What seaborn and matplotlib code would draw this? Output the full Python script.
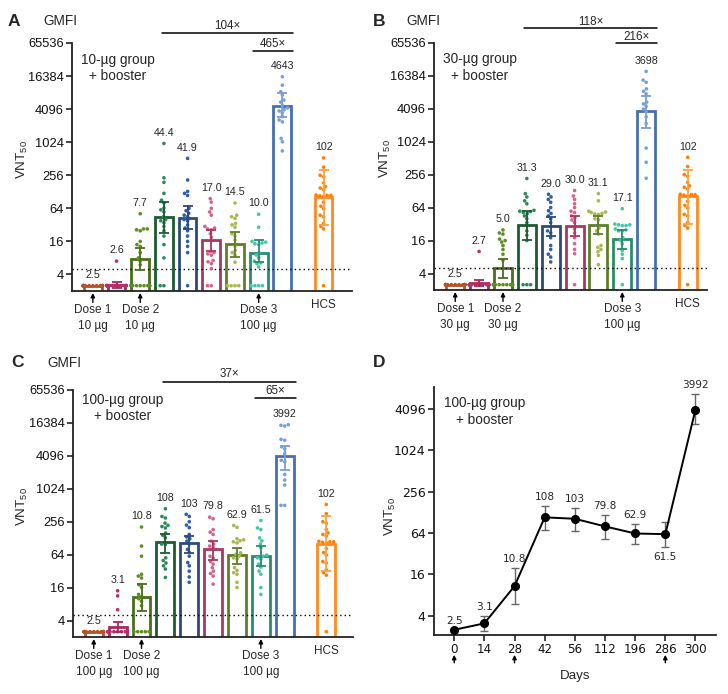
import numpy as np
import pandas as pd
import matplotlib
matplotlib.use("Agg")
import matplotlib.pyplot as plt
from matplotlib.ticker import NullLocator, FixedLocator, FixedFormatter
import seaborn as sns

# ------------------------------------------------------------------ data
categories = ["Day 0", "Day 14", "Day 28", "Day 42", "Day 56",
              "Day 112", "Day 196", "Day 286", "Day 300", "HCS"]

hcs_points = [530, 360, 256, 240, 185, 160, 150, 140, 112, 110, 110, 108,
              105, 83, 70, 63, 48, 45, 34, 30, 27, 2.5]

# Panel A : 10-ug group
gmfi_A = [2.5, 2.6, 7.7, 44.4, 41.9, 17.0, 14.5, 10.0, 4643, 102]
ci_lo_A = [2.5, 2.3, 4.9, 22.6, 27, 10.5, 8.3, 6.7, 2900, 32]
ci_hi_A = [2.5, 2.9, 12, 83, 70, 26, 23.6, 16.7, 8100, 326]
points_A = [
    [2.5] * 20,
    [7.0] + [2.5] * 19,
    [51, 27, 27, 26, 25, 16, 14, 13, 10, 8, 7, 6] + [2.5] * 8,
    [970, 230, 190, 120, 90, 80, 65, 60, 55, 45, 40, 38, 35, 30, 25, 20, 14, 8, 2.5, 2.5],
    [520, 210, 130, 120, 110, 64, 58, 52, 48, 45, 40, 38, 32, 28, 25, 20, 16, 13, 10, 2.5],
    [96, 83, 64, 55, 48, 30, 28, 27, 26, 22, 19, 10.5, 10, 9.5, 9, 7.2, 6.8, 6.3, 5.1, 2.5, 2.5],
    [80, 48, 45, 42, 34, 32, 29, 22, 20, 17, 13, 11, 10, 9, 6.7, 2.5, 2.5, 2.5, 2.5],
    [50, 29, 16, 15.5, 15, 14.5, 14, 10, 9, 8, 7, 6.5, 6.3, 5.5, 2.5, 2.5, 2.5, 2.5],
    [15900, 11200, 8500, 7400, 6000, 5500, 4800, 4300, 4000, 3800, 3500, 3000, 2600, 2400, 1200, 1040, 710],
    hcs_points,
]
folds_A = ["104×", "465×"]
doses_A = ["Dose 1\n10 µg", "Dose 2\n10 µg", "Dose 3\n100 µg"]

# Panel B : 30-ug group
gmfi_B = [2.5, 2.7, 5.0, 31.3, 29.0, 30.0, 31.1, 17.1, 3698, 102]
ci_lo_B = [2.5, 2.4, 3.25, 16.7, 19, 19, 21, 11.3, 1800, 32]
ci_hi_B = [2.5, 3.1, 7.5, 56, 43, 45, 45, 25, 7100, 315]
points_B = [
    [2.5] * 20,
    [10.1] + [2.5] * 19,
    [25, 22, 21, 17, 16, 15, 13, 11, 9, 7] + [2.5] * 10,
    [217, 115, 100, 85, 75, 57, 55, 54, 52, 50, 45, 40, 34, 24, 20, 16, 2.5, 2.5, 2.5],
    [112, 100, 90, 80, 64, 56, 50, 45, 40, 34, 24, 22, 18, 13, 11, 9, 8, 6.5],
    [131, 104, 90, 75, 64, 55, 52, 45, 42, 38, 34, 26, 22, 18, 14, 11, 9.2, 2.5],
    [115, 85, 55, 53, 52, 50, 49, 48, 40, 38, 27, 24, 21, 13, 12, 11, 10, 8.6, 5.8],
    [61, 32, 31, 31, 30, 30, 26, 25, 24, 24, 18, 16, 14, 10.5, 9, 7.5, 2.5],
    [19600, 13600, 12400, 9400, 8500, 7600, 5400, 5000, 4500, 4000, 3600, 2900, 2200, 780, 430, 220],
    hcs_points,
]
folds_B = ["118×", "216×"]
doses_B = ["Dose 1\n30 µg", "Dose 2\n30 µg", "Dose 3\n100 µg"]

# Panel C : 100-ug group
gmfi_C = [2.5, 3.1, 10.8, 108, 103, 79.8, 62.9, 61.5, 3992, 102]
ci_lo_C = [2.5, 2.5, 5.9, 69, 69, 51, 43, 40, 2260, 32]
ci_hi_C = [2.5, 3.8, 19, 153, 143, 113, 83, 94, 6100, 326]
points_C = [
    [2.5] * 19,
    [14, 11.3, 6.3] + [2.5] * 16,
    [205, 92, 60, 28, 26, 24, 18, 16, 12, 11, 10, 9, 7.5, 2.5, 2.5, 2.5, 2.5, 2.5],
    [442, 320, 300, 242, 220, 210, 197, 160, 145, 130, 100, 98, 56, 50, 45, 40, 35, 24.5],
    [350, 320, 256, 222, 200, 150, 135, 125, 113, 100, 80, 70, 60, 46, 40, 32, 25, 20],
    [310, 290, 184, 165, 150, 113, 100, 92, 86, 60, 55, 48, 43, 37, 32, 29, 26, 18.5],
    [218, 202, 125, 120, 115, 110, 105, 69, 65, 60, 56, 53, 37, 33, 30, 28, 20, 16],
    [270, 197, 184, 130, 115, 100, 86, 63, 60, 56, 53, 43, 38, 32, 28, 16, 12],
    [15200, 14800, 14400, 8200, 7900, 6000, 5500, 4500, 3400, 3200, 1870, 1480, 1200, 510, 510],
    hcs_points,
]
folds_C = ["37×", "65×"]
doses_C = ["Dose 1\n100 µg", "Dose 2\n100 µg", "Dose 3\n100 µg"]

# Panel D : 100-ug group kinetics
days = ["0", "14", "28", "42", "56", "112", "196", "286", "300"]
gmt_D = [2.5, 3.1, 10.8, 108, 103, 79.8, 62.9, 61.5, 3992]
ci_lo_D = [2.5, 2.4, 5.9, 71, 69, 52, 44, 40.5, 2450]
ci_hi_D = [2.5, 4.0, 20, 160, 150, 117, 86, 91, 6700]
dose_days = ["0", "28", "286"]

ytick_vals = [4, 16, 64, 256, 1024, 4096, 16384, 65536]
ytick_vals_D = [4, 16, 64, 256, 1024, 4096]

# ------------------------------------------------------------------ style
bar_colors = ["#B5532B", "#A8285C", "#4A6E1A", "#1E5A32", "#2B4A78",
              "#A8385F", "#5E7F2A", "#2A8C6E", "#4470B0", "#FF8A1E"]
dot_colors = ["#B5532B", "#B8306A", "#5E8F22", "#2A8A5A", "#2E5EA8",
              "#D8608A", "#A8B850", "#40C8A8", "#7A9ED8", "#FF8000"]
err_colors = bar_colors[:8] + ["#7A9ED8", "#FFA040"]
x_pos = [0, 1, 2, 3, 4, 5, 6, 7, 8, 9.74]
dose_idx = [0, 2, 7]

sns.set_theme(style="ticks")
plt.rcParams["font.family"] = ["Liberation Sans", "DejaVu Sans"]
plt.rcParams["mathtext.fontset"] = "custom"
plt.rcParams["mathtext.rm"] = "Liberation Sans"
plt.rcParams["mathtext.it"] = "Liberation Sans"
plt.rcParams["axes.edgecolor"] = "#222222"

W, H = 728, 694
fig = plt.figure(figsize=(W / 100, H / 100), dpi=100)


def px_axes(l, t, r, b):
    return fig.add_axes([l / W, 1 - b / H, (r - l) / W, (b - t) / H])


def fig_text(x, y, s, **kw):
    fig.text(x / W, 1 - y / H, s, **kw)


def fmt(v):
    return f"{v:.0f}" if v >= 100 else f"{v:.1f}"


def bar_panel(ax, gm, lo, hi, pts, folds, doses, xlim, fold_y, ylab_x):
    ax.set_yscale("log", base=2)
    summ = pd.DataFrame({"group": categories, "pos": x_pos, "gm": gm})
    sns.barplot(data=summ, x="pos", y="gm", hue="group", hue_order=categories,
                palette=bar_colors, native_scale=True, fill=False, linewidth=2.0,
                width=0.75, errorbar=None, legend=False, dodge=False, ax=ax)
    long = pd.DataFrame({
        "group": np.repeat(categories, [len(p) for p in pts]),
        "pos": np.repeat(x_pos, [len(p) for p in pts]),
        "vnt": np.concatenate([np.asarray(p, float) for p in pts]),
    })
    sns.swarmplot(data=long, x="pos", y="vnt", hue="group", hue_order=categories,
                  palette=dot_colors, native_scale=True, size=2.6,
                  legend=False, dodge=False, ax=ax, zorder=3, warn_thresh=1.0)
    for i, (x, g, l, h) in enumerate(zip(x_pos, gm, lo, hi)):
        if h > l:
            ax.errorbar(x, g, yerr=[[g - l], [h - g]], fmt="none", ecolor=err_colors[i],
                        elinewidth=1.3, capsize=3.6, capthick=1.3, zorder=4)
    for x, g, p in zip(x_pos, gm, pts):
        top = max(max(p), g)
        ax.text(x, top * 2 ** 0.65, fmt(g), ha="center", va="center", fontsize=7.7)
    ax.axhline(5, color="black", lw=1.0, ls=(0, (1, 2.2)), zorder=1)
    ax.set_ylim(2, 65536)
    ax.set_xlim(*xlim)
    ax.yaxis.set_major_locator(FixedLocator(ytick_vals))
    ax.yaxis.set_major_formatter(FixedFormatter([str(v) for v in ytick_vals]))
    ax.yaxis.set_minor_locator(NullLocator())
    ax.set_xticks([])
    ax.tick_params(axis="y", length=4, width=1.1, labelsize=9.3, pad=2, colors="#111111")
    ax.set_xlabel("")
    ax.set_ylabel("VNT$_{50}$", fontsize=9.6)
    ax.yaxis.set_label_coords(ylab_x, 0.53)
    sns.despine(ax=ax)
    for s in ("left", "bottom"):
        ax.spines[s].set_linewidth(1.3)
    tr = ax.get_xaxis_transform()
    (l1, t1), (l2, t2) = fold_y
    ax.plot([2.9, 8.47], [l1, l1], transform=tr, color="black", lw=1.1, clip_on=False)
    ax.text((2.9 + 8.47) / 2, t1, folds[0], transform=tr, ha="center", va="center", fontsize=8.4)
    ax.plot([6.74, 8.47], [l2, l2], transform=tr, color="black", lw=1.1, clip_on=False)
    ax.text((6.74 + 8.47) / 2, t2, folds[1], transform=tr, ha="center", va="center", fontsize=8.4)
    for idx, lab in zip(dose_idx, doses):
        x = x_pos[idx]
        ax.annotate("", xy=(x, -0.008), xytext=(x, -0.046), xycoords=tr, textcoords=tr,
                    arrowprops=dict(arrowstyle="-|>", color="black", lw=1.0,
                                    mutation_scale=6, shrinkA=0, shrinkB=0),
                    annotation_clip=False)
        ax.text(x, -0.052, lab, transform=tr, ha="center", va="top", fontsize=8.5,
                linespacing=1.5)
    ax.text(x_pos[9], -0.058, "HCS", transform=tr, ha="center", va="center", fontsize=8.5)


axA = px_axes(72, 43, 352, 291)
axB = px_axes(434, 42.7, 707, 290)
axC = px_axes(73, 390, 353, 637)
axD = px_axes(434, 387, 716, 635)

bar_panel(axA, gmfi_A, ci_lo_A, ci_hi_A, points_A, folds_A, doses_A, (-0.88, 10.94),
          ((1.039, 1.069), (0.969, 0.996)), -0.15)
bar_panel(axB, gmfi_B, ci_lo_B, ci_hi_B, points_B, folds_B, doses_B, (-0.89, 10.55),
          ((1.058, 1.085), (0.998, 1.024)), -0.15)
bar_panel(axC, gmfi_C, ci_lo_C, ci_hi_C, points_C, folds_C, doses_C, (-0.87, 10.86),
          ((1.034, 1.063), (0.969, 0.996)), -0.153)

# ------------------------------------------------------------------ panel D
axD.set_yscale("log", base=2)
dfD = pd.DataFrame({"day": days, "vnt": gmt_D})
xd = np.arange(len(days))
axD.errorbar(xd, gmt_D, yerr=[np.subtract(gmt_D, ci_lo_D), np.subtract(ci_hi_D, gmt_D)],
             fmt="none", ecolor="#666666", elinewidth=1.0, capsize=3.2, capthick=1.0, zorder=2)
sns.pointplot(data=dfD, x="day", y="vnt", order=days, color="black", errorbar=None,
              markers="o", markersize=5.5, linewidth=1.4, ax=axD, zorder=3)
for i, (g, l, h) in enumerate(zip(gmt_D, ci_lo_D, ci_hi_D)):
    if days[i] == "286":
        axD.text(i, l / 2 ** 0.5, fmt(g), ha="center", va="center", fontsize=7.6,
                 family="DejaVu Sans")
    else:
        axD.text(i, h * 2 ** 0.42, fmt(g), ha="center", va="center", fontsize=7.6,
                 family="DejaVu Sans")
axD.set_ylim(2.1, 8500)
axD.set_xlim(-0.67, 8.68)
axD.yaxis.set_major_locator(FixedLocator(ytick_vals_D))
axD.yaxis.set_major_formatter(FixedFormatter([str(v) for v in ytick_vals_D]))
axD.yaxis.set_minor_locator(NullLocator())
axD.tick_params(axis="both", length=4, width=1.1, colors="#111111")
axD.tick_params(axis="y", labelsize=9.0, pad=2)
axD.tick_params(axis="x", labelsize=8.6, pad=2)
for lab in axD.get_xticklabels() + axD.get_yticklabels():
    lab.set_family("DejaVu Sans")
axD.set_xlabel("Days", fontsize=9.6, labelpad=10)
axD.set_ylabel("VNT$_{50}$", fontsize=9.6)
axD.yaxis.set_label_coords(-0.128, 0.477)
sns.despine(ax=axD)
for s in ("left", "bottom"):
    axD.spines[s].set_linewidth(1.3)
trD = axD.get_xaxis_transform()
for d in dose_days:
    i = days.index(d)
    axD.annotate("", xy=(i, -0.08), xytext=(i, -0.112), xycoords=trD, textcoords=trD,
                 arrowprops=dict(arrowstyle="-|>", color="black", lw=1.0,
                                 mutation_scale=6, shrinkA=0, shrinkB=0),
                 annotation_clip=False)

# ------------------------------------------------------------------ figure texts
for (x, y, s) in [(14, 21, "A"), (379, 21, "B"), (17, 362, "C"), (379, 362, "D")]:
    fig_text(x, y, s, fontsize=12.5, fontweight="bold", ha="center", va="center")
for (x, y) in [(43, 21), (406, 21), (47, 363)]:
    fig_text(x, y, "GMFI", fontsize=9.8, ha="left", va="center")
for (x, y, s) in [(118, 68, "10-µg group\n+ booster"), (480, 67.5, "30-µg group\n+ booster"),
                  (123, 408, "100-µg group\n+ booster"), (484.5, 411.5, "100-µg group\n+ booster")]:
    fig_text(x, y, s, fontsize=9.8, ha="center", va="center", linespacing=1.25)

fig.savefig("out.png", dpi=100)
